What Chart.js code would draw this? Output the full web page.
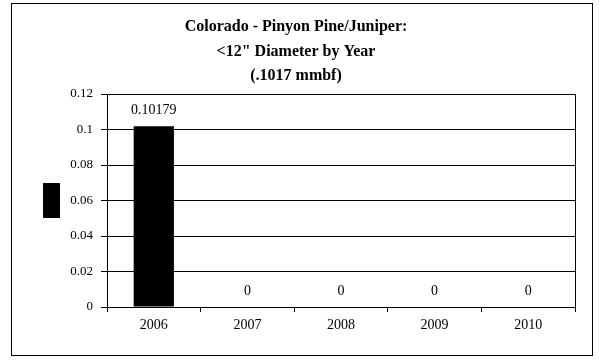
<!DOCTYPE html>
<html>
<head>
<meta charset="utf-8">
<script src="https://cdn.jsdelivr.net/npm/chart.js@4"></script>
<style>
    html, body { margin: 0; padding: 0; background: #fff; }
    #wrap { width: 599px; height: 360px; }
</style>
</head>
<body>
<div id="wrap"><canvas id="pjChart" width="599" height="360"></canvas></div>
<script>
// chart data
const years = ['2006', '2007', '2008', '2009', '2010'];
const volumes = [0.10179, 0, 0, 0, 0];
const valueLabels = ['0.10179', '0', '0', '0', '0'];
const titleLines = ['Colorado - Pinyon Pine/Juniper:', '<12" Diameter by Year', '(.1017 mmbf)'];

const serif = "'Liberation Serif', 'DejaVu Serif', serif";

// frame, title, plot border, value labels and the stray key box
const decorations = {
    id: 'decorations',
    beforeDraw(chart) {
        const c = chart.ctx;
        c.save();
        c.fillStyle = '#fff';
        c.fillRect(0, 0, chart.width, chart.height);
        c.strokeStyle = '#000';
        c.lineWidth = 1;
        c.strokeRect(11.5, 3.5, 581, 352);
        c.restore();
    },
    afterDraw(chart) {
        const c = chart.ctx;
        const a = chart.chartArea;
        c.save();
        // top and right border of plot area
        c.strokeStyle = '#000';
        c.lineWidth = 1;
        c.beginPath();
        c.moveTo(a.left, Math.round(a.top) + 0.5);
        c.lineTo(Math.round(a.right) + 0.5, Math.round(a.top) + 0.5);
        c.lineTo(Math.round(a.right) + 0.5, a.bottom);
        c.stroke();

        // title
        c.fillStyle = '#000';
        c.font = 'bold 16px ' + serif;
        c.textAlign = 'center';
        c.textBaseline = 'middle';
        titleLines.forEach((t, i) => c.fillText(t, 296, 27 + i * 24.5));

        // value labels above bars
        c.font = '14px ' + serif;
        const meta = chart.getDatasetMeta(0);
        meta.data.forEach((bar, i) => {
            c.fillText(valueLabels[i], bar.x, bar.y - 16);
        });

        // the little black key box left of the axis
        c.fillRect(43, 183, 17, 35);
        c.restore();
    }
};

new Chart(document.getElementById('pjChart'), {
    type: 'bar',
    data: {
        labels: years,
        datasets: [{
            data: volumes,
            backgroundColor: '#000',
            borderWidth: 0,
            categoryPercentage: 1.0,
            barPercentage: 0.43
        }]
    },
    options: {
        responsive: false,
        animation: false,
        layout: {
            padding: { left: 11, right: 24, top: 94, bottom: 22 }
        },
        plugins: {
            legend: { display: false },
            title: { display: false },
            tooltip: { enabled: false }
        },
        scales: {
            x: {
                grid: {
                    offset: true,
                    drawOnChartArea: false,
                    drawTicks: true,
                    tickLength: 5,
                    color: '#000'
                },
                border: { color: '#000', width: 1 },
                ticks: {
                    color: '#000',
                    font: { family: serif, size: 14 },
                    padding: 5,
                    maxRotation: 0
                },
                afterFit(scale) { scale.height = 31; }
            },
            y: {
                min: 0,
                max: 0.12,
                grid: {
                    color: '#000',
                    lineWidth: 1,
                    drawTicks: true,
                    tickLength: 6
                },
                border: { color: '#000', width: 1 },
                ticks: {
                    stepSize: 0.02,
                    color: '#000',
                    font: { family: serif, size: 13 },
                    padding: 8,
                    callback: v => (Math.round(v * 100) / 100).toString()
                },
                afterFit(scale) { scale.width = 96; }
            }
        }
    },
    plugins: [decorations]
});
</script>
</body>
</html>
